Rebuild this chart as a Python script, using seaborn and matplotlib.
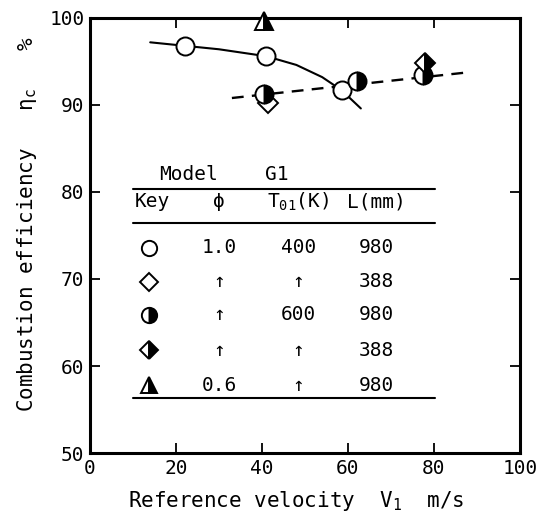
import numpy as np
import pandas as pd
import matplotlib
matplotlib.use("Agg")
import matplotlib.pyplot as plt
import seaborn as sns

# ---- data ----
open_circle_x = [22, 41, 58.5]
open_circle_y = [96.8, 95.6, 91.7]
open_diamond_x = [41.5]
open_diamond_y = [90.2]
half_circle_x = [40.5, 62, 77.5]
half_circle_y = [91.3, 92.8, 93.4]
half_diamond_x = [78]
half_diamond_y = [94.8]
triangle_x = [40.5]
triangle_y = [99.7]

solid_curve_x = [14, 22, 30, 41, 48, 54, 58.5, 63]
solid_curve_y = [97.2, 96.8, 96.4, 95.6, 94.6, 93.2, 91.7, 89.6]
dashed_line_x = [33, 87]
dashed_line_y = [90.8, 93.7]

table_header = ["Key", "ϕ", "T$_\\mathregular{01}$(K)", "L(mm)"]
phi_col = ["1.0", "↑", "↑", "↑", "0.6"]
T_col = ["400", "↑", "600", "↑", "↑"]
L_col = ["980", "388", "980", "388", "980"]

sns.set_style("ticks")
plt.rcParams['font.family'] = ['DejaVu Sans Mono', 'DejaVu Sans']
plt.rcParams['mathtext.fontset'] = 'custom'
plt.rcParams['mathtext.rm'] = 'DejaVu Sans Mono'
for k in ['text.color', 'axes.labelcolor', 'xtick.color', 'ytick.color', 'axes.edgecolor']:
    plt.rcParams[k] = 'black'

fig = plt.figure(figsize=(5.49, 5.28), dpi=100)
ax = fig.add_axes([0.164, 0.142, 0.783, 0.824])

# curves
sns.lineplot(x=solid_curve_x, y=solid_curve_y, ax=ax, color='black', lw=1.5, estimator=None, sort=False)
sns.lineplot(x=dashed_line_x, y=dashed_line_y, ax=ax, color='black', lw=1.7, estimator=None, sort=False)
ax.lines[-1].set_dashes([5, 3.5])

ms = 13
common = dict(ls='none', mec='black', mew=1.4, clip_on=False, zorder=5)
ax.plot(open_diamond_x, open_diamond_y, marker='D', ms=ms * 0.8, mfc='white', **common)
ax.plot(open_circle_x, open_circle_y, marker='o', ms=ms, mfc='white', **common)
ax.plot(half_circle_x, half_circle_y, marker='o', ms=ms, fillstyle='right', mfc='black', mfcalt='white', **common)
ax.plot(half_diamond_x, half_diamond_y, marker='D', ms=ms * 0.8, fillstyle='right', mfc='black', mfcalt='white', **common)
ax.plot(triangle_x, triangle_y, marker='^', ms=ms, fillstyle='right', mfc='black', mfcalt='white', **common)

# table
fs = 14
ax.text(23, 82.0, "Model", fontsize=fs, ha='center', va='center')
ax.text(43.5, 82.0, "G1", fontsize=fs, ha='center', va='center')
for yy in [80.4, 76.4, 56.3]:
    ax.plot([10, 80.2], [yy, yy], color='black', lw=1.5)
col_x = [14.5, 30, 48.5, 66.5]
for cx, h in zip(col_x, table_header):
    ax.text(cx, 78.9, h, fontsize=fs, ha='center', va='center')
row_y = [73.6, 69.7, 65.9, 61.8, 57.8]
key_markers = [dict(marker='o', fillstyle='full', mfc='white'),
               dict(marker='D', fillstyle='full', mfc='white'),
               dict(marker='o', fillstyle='right', mfc='black', mfcalt='white'),
               dict(marker='D', fillstyle='right', mfc='black', mfcalt='white'),
               dict(marker='^', fillstyle='right', mfc='black', mfcalt='white')]
key_sizes = [11, 9, 11, 9, 12]
for ry, km, ks, p, t, l in zip(row_y, key_markers, key_sizes, phi_col, T_col, L_col):
    ax.plot([13.8], [ry], ls='none', ms=ks, mec='black', mew=1.4, **km)
    ax.text(col_x[1], ry, p, fontsize=fs, ha='center', va='center')
    ax.text(col_x[2], ry, t, fontsize=fs, ha='center', va='center')
    ax.text(col_x[3], ry, l, fontsize=fs, ha='center', va='center')

ax.set_xlim(0, 100)
ax.set_ylim(50, 100)
ax.set_xticks([0, 20, 40, 60, 80, 100])
ax.set_yticks([50, 60, 70, 80, 90, 100])
ax.tick_params(direction='in', length=7, width=1.3, top=True, right=True,
               labelsize=14, pad=4)
for s in ax.spines.values():
    s.set_linewidth(2.2)
    s.set_visible(True)
ax.set_xlabel("Reference velocity  V$_\\mathregular{1}$  m/s", fontsize=15)
ax.set_ylabel("Combustion efficiency   η$_\\mathregular{c}$   %", fontsize=15)
ax.xaxis.set_label_coords(0.48, -0.083)
ax.yaxis.set_label_coords(-0.118, 0.525)

fig.savefig("out.png", dpi=100)
